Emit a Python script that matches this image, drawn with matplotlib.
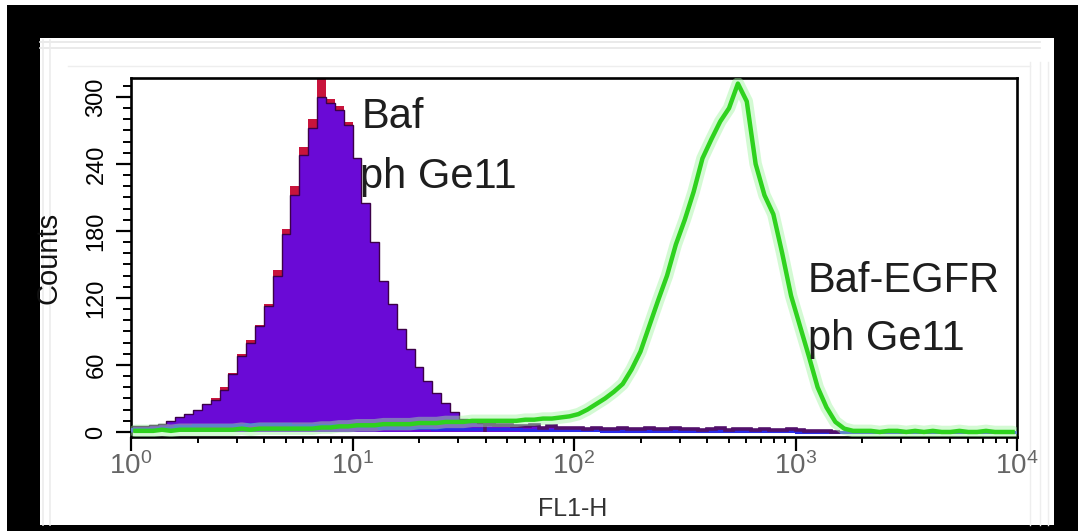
import numpy as np
import matplotlib
matplotlib.use("Agg")
import matplotlib.pyplot as plt
from matplotlib.patches import Rectangle
from matplotlib.ticker import LogLocator, LogFormatterMathtext, MultipleLocator, FixedLocator, NullFormatter

plt.rcParams['font.family'] = ['Liberation Sans', 'DejaVu Sans']
plt.rcParams['mathtext.fontset'] = 'custom'
plt.rcParams['mathtext.rm'] = 'Liberation Sans'
plt.rcParams['mathtext.it'] = 'Liberation Sans'
plt.rcParams['mathtext.bf'] = 'Liberation Sans:bold'

# ---- data: histogram channels, 100 log-spaced bins over 10^0 .. 10^4 ----
log_edges = np.linspace(0, 4, 101)

baf_fill = [5, 5, 6, 7, 10, 13, 16, 20, 25, 29,
            38, 52, 68, 80, 95, 113, 140, 177, 212, 248,
            272, 300, 295, 288, 275, 245, 205, 170, 135, 115,
            92, 74, 58, 46, 35, 26, 18, 12, 9, 8,
            7, 6, 6, 5, 5, 6, 4, 5, 4, 4,
            4, 3, 4, 3, 3, 4, 3, 3, 4, 3,
            3, 4, 3, 3, 2, 3, 4, 2, 3, 3,
            2, 3, 2, 2, 3, 2, 1, 1, 1, 0,
            0, 0, 0, 0, 0, 0, 0, 0, 0, 0,
            0, 0, 0, 0, 0, 0, 0, 0, 0, 0]

baf_red = [4, 5, 6, 7, 9, 12, 16, 20, 24, 30,
           40, 53, 70, 82, 96, 115, 145, 182, 220, 255,
           280, 316, 298, 292, 278, 240, 200, 168, 132, 112,
           90, 72, 57, 45, 34, 25, 17, 12, 8, 7,
           6, 6, 5, 5, 4, 5, 4, 4, 4, 3,
           3, 3, 3, 3, 2, 3, 3, 2, 3, 3,
           2, 3, 3, 2, 2, 3, 3, 2, 2, 3,
           2, 2, 2, 1, 2, 1, 1, 1, 0, 0,
           0, 0, 0, 0, 0, 0, 0, 0, 0, 0,
           0, 0, 0, 0, 0, 0, 0, 0, 0, 0]

baf_blue = [3, 3, 3, 4, 4, 5, 5, 6, 6, 6,
            6, 6, 6, 7, 7, 7, 7, 7, 6, 6,
            6, 6, 6, 5, 5, 5, 5, 5, 4, 4,
            4, 4, 4, 4, 3, 3, 3, 3, 3, 3,
            3, 3, 3, 3, 2, 2, 2, 2, 2, 2,
            2, 2, 2, 1, 1, 1, 1, 1, 1, 1,
            1, 1, 1, 1, 1, 1, 1, 1, 1, 1,
            1, 1, 1, 1, 1, 0, 0, 0, 0, 0,
            0, 0, 0, 0, 0, 0, 0, 0, 0, 0,
            0, 0, 0, 0, 0, 0, 0, 0, 0, 0]

egfr_green = [1, 1, 1, 2, 1, 2, 2, 2, 2, 2,
              2, 2, 3, 2, 3, 3, 3, 3, 3, 3,
              3, 4, 4, 5, 5, 6, 6, 6, 7, 7,
              7, 7, 8, 8, 8, 9, 9, 9, 10, 10,
              10, 10, 10, 10, 11, 11, 12, 12, 13, 14,
              16, 20, 25, 30, 36, 43, 56, 72, 95, 118,
              140, 168, 190, 215, 245, 262, 278, 290, 312, 296,
              240, 212, 195, 160, 122, 95, 68, 40, 22, 9,
              3, 1, 1, 1, 0, 1, 1, 0, 1, 0,
              1, 0, 0, 1, 0, 0, 1, 0, 0, 0]

x_ticks = [1, 10, 100, 1000, 10000]
y_ticks = [0, 60, 120, 180, 240, 300]
x_label = "FL1-H"
y_label = "Counts"
labels = [("Baf", 362, 128), ("ph Ge11", 360, 188),
          ("Baf-EGFR", 808, 292), ("ph Ge11", 808, 350)]

W, H = 1078, 531
fig = plt.figure(figsize=(W / 100, H / 100), dpi=100, facecolor='white')

def fx(px):
    return px / W

def fy(py):
    return (H - py) / H

# black frame and white panel
fig.patches.append(Rectangle((fx(7), 0), 1 - fx(7), fy(5), transform=fig.transFigure,
                             facecolor='black', edgecolor='none', zorder=-10))
fig.patches.append(Rectangle((fx(40), fy(525)), fx(1054) - fx(40), fy(38) - fy(525),
                             transform=fig.transFigure, facecolor='white', edgecolor='none', zorder=-9))
# faint gray guide lines of the panel
for py in (42, 48):
    fig.lines.append(plt.Line2D([fx(40), fx(1040)], [fy(py), fy(py)], transform=fig.transFigure,
                                color='#e6e6e6', lw=1.2, zorder=-8))
for px in (43, 50):
    fig.lines.append(plt.Line2D([fx(px), fx(px)], [fy(40), fy(525)], transform=fig.transFigure,
                                color='#ececec', lw=1.2, zorder=-8))
for px in (1030, 1040, 1048):
    fig.lines.append(plt.Line2D([fx(px), fx(px)], [fy(62), fy(525)], transform=fig.transFigure,
                                color='#eeeeee', lw=1.0, zorder=-8))
fig.lines.append(plt.Line2D([fx(68), fx(1030)], [fy(66), fy(66)], transform=fig.transFigure,
                            color='#eeeeee', lw=1.0, zorder=-8))

ax = fig.add_axes([fx(131), fy(437), fx(1017) - fx(131), fy(78) - fy(437)])
ax.set_facecolor('white')
ax.set_zorder(1)

edges = 10 ** log_edges
centers = 10 ** ((log_edges[:-1] + log_edges[1:]) / 2)

# red control sample shows only where it rises above the filled one
ax.stairs(baf_red, edges, fill=True, color='#c8143c', zorder=1.5)
ax.stairs(baf_fill, edges, fill=True, color='#6a0ad6', zorder=2)
ax.stairs(baf_fill, edges, fill=False, color='#3c0048', lw=1.0, zorder=2.5)
ax.stairs(baf_blue, edges, fill=False, color='#2a2ae8', lw=2.2, zorder=3)
ax.stairs(baf_fill[40:80], edges[40:81], fill=False, color='#52106a', lw=2.6, zorder=3.5)

ax.plot(centers, egfr_green, color='#9ef59e', lw=9, alpha=0.45, zorder=5, solid_capstyle='round')
ax.plot(centers, egfr_green, color='#2ed21e', lw=3.2, zorder=6)

ax.set_xscale('log')
ax.set_xlim(1, 10000)
ax.set_ylim(-4.5, 317)

ax.xaxis.set_major_locator(FixedLocator(x_ticks))
ax.xaxis.set_major_formatter(LogFormatterMathtext())
ax.xaxis.set_minor_locator(LogLocator(base=10, subs=np.arange(2, 10)))
ax.xaxis.set_minor_formatter(NullFormatter())
ax.yaxis.set_major_locator(FixedLocator(y_ticks))
ax.yaxis.set_minor_locator(MultipleLocator(10))

ax.tick_params(axis='x', which='major', direction='out', length=10, width=1.6,
               labelsize=20, labelcolor='#666666', pad=1)
ax.tick_params(axis='x', which='minor', direction='out', length=4.5, width=1.4)
ax.tick_params(axis='y', which='major', direction='out', length=11, width=1.6,
               labelsize=17, labelcolor='#000000', pad=6)
ax.tick_params(axis='y', which='minor', direction='out', length=6, width=1.4)
for lab in ax.get_yticklabels():
    lab.set_rotation(90)
    lab.set_va('center')

for s in ax.spines.values():
    s.set_linewidth(1.9)
    s.set_color('black')

fig.text(fx(48), fy(258), y_label, rotation=90, ha='center', va='center',
         fontsize=21, color='#111111', zorder=5)
fig.text(fx(573), fy(509), x_label, ha='center', va='center',
         fontsize=18, color='#333333', zorder=5)

for txt, px, py in labels:
    fig.text(fx(px), fy(py), txt, ha='left', va='baseline', fontsize=30, color='#1e1e1e', zorder=5)

fig.savefig('out.png', dpi=100, facecolor=fig.get_facecolor())
